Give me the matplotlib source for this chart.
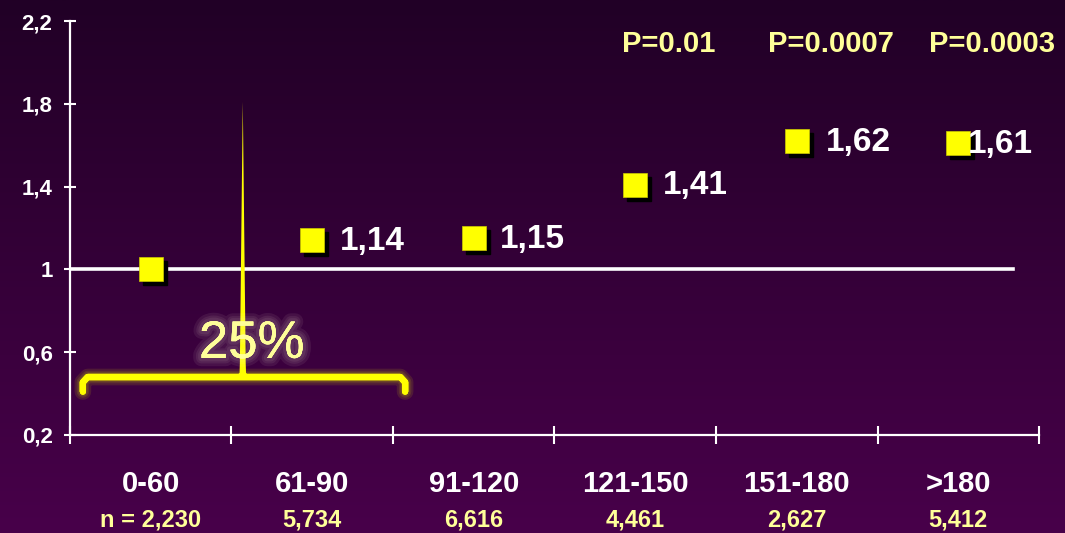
import numpy as np
import matplotlib
matplotlib.use("Agg")
from matplotlib import pyplot as plt
from matplotlib import patheffects as pe
from matplotlib.transforms import offset_copy, blended_transform_factory

plt.rcParams['font.family'] = ['Liberation Sans', 'DejaVu Sans']

# systolic pressure bands and patient counts
groups = ['0-60', '61-90', '91-120', '121-150', '151-180', '>180']
counts = ['n = 2,230', '5,734', '6,616', '4,461', '2,627', '5,412']
hazard = [1.00, 1.14, 1.15, 1.41, 1.62, 1.61]
hazard_text = [None, '1,14', '1,15', '1,41', '1,62', '1,61']
p_groups = [3, 4, 5]
p_text = ['P=0.01', 'P=0.0007', 'P=0.0003']
yticks = [0.2, 0.6, 1.0, 1.4, 1.8, 2.2]
ytick_text = ['0,2', '0,6', '1', '1,4', '1,8', '2,2']

YELLOW = '#ffff00'
PALE = '#ffff99'

fig = plt.figure(figsize=(10.65, 5.33), dpi=100)

# purple gradient background
bg = fig.add_axes([0, 0, 1, 1], zorder=-10)
grad = np.linspace(0, 1, 256).reshape(-1, 1)
top = np.array([0x21, 0x00, 0x26]) / 255
bot = np.array([0x48, 0x00, 0x4a]) / 255
img = top + (bot - top) * grad[..., None]
bg.imshow(img, aspect='auto', extent=[0, 1, 0, 1])
bg.axis('off')

ax = fig.add_axes([0.0657, 0.1839, 0.9099, 0.7767])
ax.set_facecolor('none')
ax.set_xlim(-0.5, 5.5)
ax.set_ylim(0.2, 2.2)

for side in ['top', 'right']:
    ax.spines[side].set_visible(False)
for side in ['left', 'bottom']:
    ax.spines[side].set_color('white')
    ax.spines[side].set_linewidth(1.6)

ax.set_yticks(yticks)
ax.set_yticklabels(ytick_text, fontsize=16, fontweight='bold', color='white')
ax.tick_params(axis='y', direction='inout', length=9, width=1.5, color='white', pad=8)
ax.set_xticks(np.arange(-0.5, 5.6, 1.0))
ax.set_xticklabels([])
ax.tick_params(axis='x', direction='inout', length=13, width=1.5, color='white')

# reference line at 1
ax.plot([-0.5, 5.34], [1, 1], color='white', lw=2.6, zorder=2)

# category labels under the axis
tr = blended_transform_factory(ax.transData, ax.transAxes)
x = np.arange(len(groups))
for xi, g, n in zip(x, groups, counts):
    ax.text(xi, -0.118, g, transform=tr, ha='center', va='center',
            fontsize=21, fontweight='bold', color='white')
    ax.text(xi, -0.205, n, transform=tr, ha='center', va='center',
            fontsize=17, fontweight='bold', color=PALE)


def soft_glow(color, widths, alpha):
    fx = [pe.withStroke(linewidth=w, foreground=color, alpha=alpha) for w in widths]
    return fx + [pe.Normal()]


# bracket with spike and 25% note
bx0, bx1, bxc = -0.42, 1.575, 0.57
ax.plot([bx0, bx0, bx0 + 0.03, bx1 - 0.03, bx1, bx1],
        [0.41, 0.455, 0.48, 0.48, 0.455, 0.41],
        color=YELLOW, lw=4.5, solid_capstyle='round', solid_joinstyle='round',
        path_effects=soft_glow('#d8d800', [12, 9, 7], 0.12), zorder=3)
ax.fill([bxc - 0.045, bxc - 0.02, bxc - 0.018, bxc, bxc + 0.018, bxc + 0.02, bxc + 0.045],
        [0.48, 0.50, 0.55, 1.81, 0.55, 0.50, 0.48],
        color=YELLOW, lw=0, zorder=3)
ax.text(0.625, 0.64, '25%', ha='center', va='center', fontsize=38, color=PALE,
        alpha=0.92, zorder=4,
        path_effects=soft_glow('#fff8e0', [12, 8, 5], 0.07))

# hazard markers with drop shadow
shadow = offset_copy(ax.transData, fig=fig, x=4, y=-4, units='dots')
ax.plot(x, hazard, 's', ms=17, color='black', transform=shadow, zorder=5)
ax.plot(x, hazard, 's', ms=17, color=YELLOW, mec='#cccc00', mew=0.5, zorder=6)

label_dx = [0, 20, 19, 20, 21, 7]
for xi, h, t, dx in zip(x, hazard, hazard_text, label_dx):
    if t is None:
        continue
    ax.annotate(t, (xi, h), xytext=(dx, -1), textcoords='offset points',
                ha='left', va='center', fontsize=24, fontweight='bold',
                color='white', zorder=7)

for g, t in zip(p_groups, p_text):
    ax.text(g + 0.21, 2.09, t, ha='center', va='center', fontsize=21,
            fontweight='bold', color=PALE)

fig.savefig('out.png', dpi=100)
